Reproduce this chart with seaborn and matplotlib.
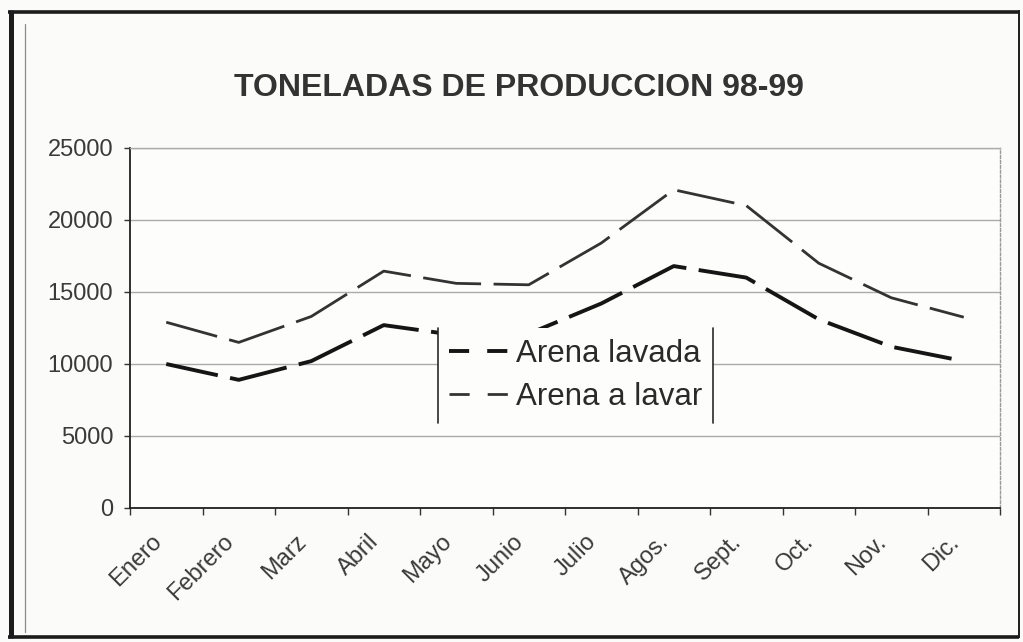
import matplotlib
matplotlib.use("Agg")
import matplotlib.pyplot as plt
import matplotlib.transforms as mtransforms
from matplotlib.lines import Line2D
import numpy as np
import pandas as pd
import seaborn as sns

# Monthly production, tonnes (1998-99)
meses = ["Enero", "Febrero", "Marz", "Abril", "Mayo", "Junio", "Julio",
         "Agos.", "Sept.", "Oct.", "Nov.", "Dic."]
arena_lavada = [10000, 8900, 10200, 12700, 12000, 12100, 14200,
                16800, 16000, 13100, 11200, 10200]
arena_a_lavar = [12900, 11500, 13300, 16450, 15600, 15500, 18400,
                 22100, 21000, 17000, 14600, 13250]
y_ticks = [0, 5000, 10000, 15000, 20000, 25000]
titulo = "TONELADAS DE PRODUCCION 98-99"
serie_lavada = "Arena lavada"
serie_a_lavar = "Arena a lavar"

sns.set_theme(style="white")
plt.rcParams["font.family"] = ["Liberation Sans", "DejaVu Sans"]
plt.rcParams["lines.scale_dashes"] = False

W, H, DPI = 1023, 642, 100
fig = plt.figure(figsize=(W / DPI, H / DPI), dpi=DPI, facecolor="#fbfbfa")
ax = fig.add_axes([130 / W, 1 - 508 / H, 870 / W, 360 / H])
ax.set_facecolor("#fdfdfc")

df = pd.DataFrame({
    "mes": meses * 2,
    "toneladas": arena_lavada + arena_a_lavar,
    "serie": [serie_lavada] * len(meses) + [serie_a_lavar] * len(meses),
})

sns.lineplot(data=df[df["serie"] == serie_a_lavar], x="mes", y="toneladas",
             ax=ax, color="#333333", linewidth=2.0, sort=False,
             linestyle=(4, (42, 9)), legend=False, zorder=3)
sns.lineplot(data=df[df["serie"] == serie_lavada], x="mes", y="toneladas",
             ax=ax, color="#151515", linewidth=2.8, sort=False,
             linestyle=(4, (42, 9)), legend=False, zorder=3)

# Axes limits, ticks and grid
ax.set_xlim(-0.5, len(meses) - 0.5)
ax.set_ylim(0, 25000)
ax.set_yticks(y_ticks)
ax.set_yticklabels([str(v) for v in y_ticks])
ax.set_xticks(np.arange(len(meses)))
ax.set_xticklabels(meses)
ax.set_xticks(np.arange(len(meses) + 1) - 0.5, minor=True)
ax.set_xlabel("")
ax.set_ylabel("")

ax.yaxis.grid(True, color="#ababab", linewidth=1.0)
ax.xaxis.grid(False)
ax.set_axisbelow(True)

ax.tick_params(axis="y", which="major", left=True, length=4, width=1,
               color="#333333", pad=8, labelsize=17, labelcolor="#3a3a3a")
ax.tick_params(axis="x", which="major", bottom=True, length=0, pad=22,
               labelsize=17, labelcolor="#3a3a3a")
ax.tick_params(axis="x", which="minor", bottom=True, length=5, width=1,
               color="#333333")

offset = mtransforms.ScaledTranslation(-0.08, 0, fig.dpi_scale_trans)
for lbl in ax.get_xticklabels():
    lbl.set_rotation(45)
    lbl.set_ha("right")
    lbl.set_va("center")
    lbl.set_rotation_mode("anchor")
    lbl.set_transform(lbl.get_transform() + offset)

for side in ["left", "bottom"]:
    ax.spines[side].set_color("#202020")
    ax.spines[side].set_linewidth(1.3)
ax.spines["top"].set_color("#ababab")
ax.spines["top"].set_linewidth(1.0)
ax.spines["right"].set_color("#9a9a9a")
ax.spines["right"].set_linewidth(1.0)
ax.spines["right"].set_linestyle((0, (2, 1.5)))

# Title
fig.text(519 / W, 1 - 88 / H, titulo, ha="center", va="center",
         fontsize=23, fontweight="bold", color="#333333")

# Legend with short-dash handles
handles = [
    Line2D([], [], color="#151515", linewidth=2.8, linestyle=(0, (14.5, 13))),
    Line2D([], [], color="#333333", linewidth=2.0, linestyle=(0, (14.5, 13))),
]
leg = fig.legend(handles, [serie_lavada, serie_a_lavar],
                 loc="upper left", bbox_to_anchor=(438 / W, 1 - 328 / H),
                 bbox_transform=fig.transFigure, fontsize=22.5,
                 handlelength=1.9, handletextpad=0.25, labelspacing=0.42,
                 borderpad=0.35, borderaxespad=0, frameon=True,
                 fancybox=False, framealpha=1)
leg.get_frame().set_facecolor("#fdfdfc")
leg.get_frame().set_edgecolor("none")
for t in leg.get_texts():
    t.set_color("#2a2a2a")
leg.set_zorder(5)

fig.canvas.draw()
bb = leg.get_window_extent().transformed(fig.transFigure.inverted())
for xv in (bb.x0, bb.x1):
    fig.add_artist(Line2D([xv, xv], [bb.y0, bb.y1], transform=fig.transFigure,
                          color="#2a2a2a", linewidth=1.2, zorder=6))

# Outer chart frame
def fx(px):
    return px / W

def fy(py):
    return 1 - py / H

frame_kw = dict(transform=fig.transFigure, color="#1c1c1c", solid_capstyle="butt")
fig.add_artist(Line2D([fx(8), fx(1019)], [fy(11.5), fy(11.5)], linewidth=2.6, **frame_kw))
fig.add_artist(Line2D([fx(11), fx(11)], [fy(10), fy(638)], linewidth=3.6, **frame_kw))
fig.add_artist(Line2D([fx(1019), fx(1019)], [fy(10), fy(638)], linewidth=1.4, **frame_kw))
fig.add_artist(Line2D([fx(8), fx(1019)], [fy(637), fy(637)], linewidth=2.6, **frame_kw))
fig.add_artist(Line2D([fx(25), fx(25)], [fy(24), fy(632)], transform=fig.transFigure,
                      color="#8a8a8a", linewidth=0.9))

fig.savefig("out.png", dpi=DPI, facecolor=fig.get_facecolor())
